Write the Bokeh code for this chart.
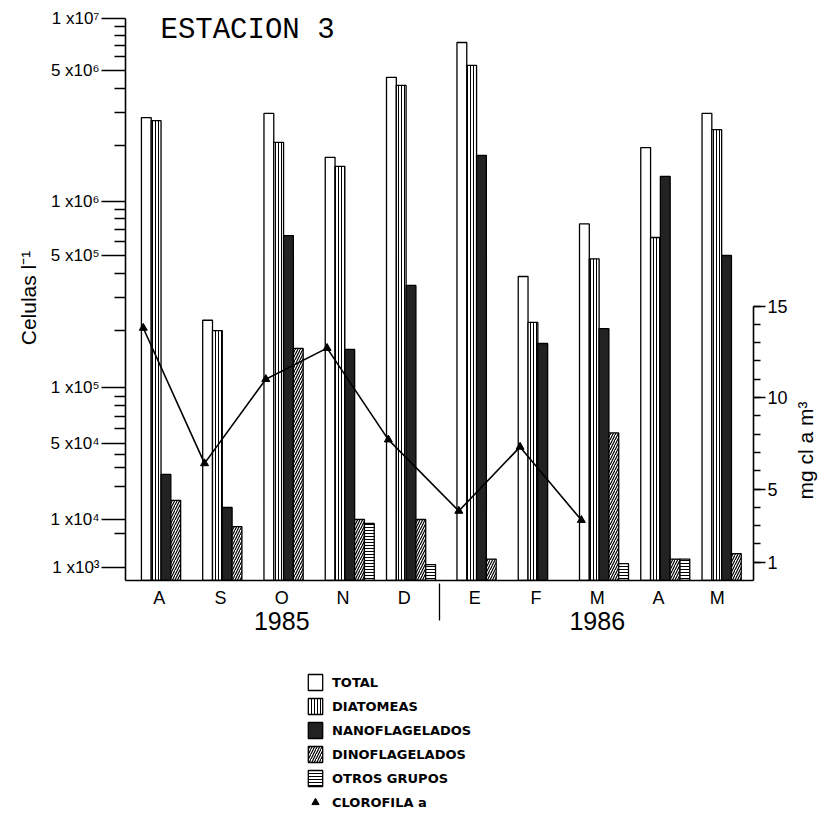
import math
import numpy as np
from bokeh.plotting import figure
from bokeh.layouts import column, row
from bokeh.models import (FactorRange, ColumnDataSource, CustomJSTransform, FixedTicker,
                          LinearAxis, Range1d, Legend, LegendItem, Label)
from bokeh.transform import dodge, transform
from bokeh.embed import file_html
from bokeh.resources import INLINE

# ---------------- data ----------------
years = ["1985"] * 5 + ["1986"] * 5
# the two "M" of 1986 (Marzo, Mayo) must be distinct factors: the second has a trailing space
months = ["A", "S", "O", "N", "D", "E", "F", "M", "A", "M "]
total = [2.8e6, 2.27e5, 2.95e6, 1.72e6, 4.6e6, 7.26e6, 3.87e5, 7.5e5, 1.94e6, 2.95e6]
diatomeas = [2.7e6, 2.0e5, 2.07e6, 1.54e6, 4.16e6, 5.35e6, 2.21e5, 4.8e5, 6.3e5, 2.42e6]
nanoflagelados = [2.6e4, 1.29e4, 6.46e5, 1.59e5, 3.47e5, 1.76e6, 1.71e5, 2.05e5, 1.36e6, 5.0e5]
dinoflagelados = [1.5e4, 7.1e3, 1.61e5, 1.0e4, 1.0e4, 1.5e3, None, 5.7e4, 1.5e3, 1.95e3]
otros_grupos = [None, None, None, 8.3e3, 1.15e3, None, None, 1.2e3, 1.5e3, None]
clorofila = [13.8, 6.4, 11.0, 12.7, 7.7, 3.8, 7.3, 3.3, None, None]

# left axis of the original is a hand-drawn, piecewise logarithmic scale
axis_values = [1e3, 1e4, 5e4, 1e5, 5e5, 1e6, 5e6, 1e7]
axis_pos = [13, 61, 137, 193, 325, 379, 510, 562]
axis_labels = ["1 x10³", "1 x10⁴", "5 x10⁴", "1 x10⁵", "5 x10⁵", "1 x10⁶", "5 x10⁶", "1 x10⁷"]
cl_ticks = [1, 5, 10, 15]
cl_minor = list(range(1, 16))

factors = list(zip(years, months))
lv = [float(np.log10(v)) for v in axis_values]

piecewise = CustomJSTransform(args=dict(lv=lv, pos=axis_pos), func="""
const l = Math.log10(x);
let k = 0;
while (k < lv.length - 2 && l > lv[k + 1]) k++;
const t = (l - lv[k]) / (lv[k + 1] - lv[k]);
return pos[k] + t * (pos[k + 1] - pos[k]);
""", v_func="""
const out = new Array(xs.length);
for (let i = 0; i < xs.length; i++) {
  const l = Math.log10(xs[i]);
  let k = 0;
  while (k < lv.length - 2 && l > lv[k + 1]) k++;
  const t = (l - lv[k]) / (lv[k + 1] - lv[k]);
  out[i] = pos[k] + t * (pos[k + 1] - pos[k]);
}
return out;
""")

FONT = "Liberation Sans"
TOP, FH, BOT = 15, 565, 72

p = figure(x_range=FactorRange(*factors, group_padding=0.15, factor_padding=0.0,
                               range_padding=0.05, range_padding_units="absolute"),
           y_range=Range1d(0, 565),
           frame_width=628, frame_height=FH, output_backend="svg", toolbar_location=None,
           min_border_left=125, min_border_right=32, min_border_top=TOP, min_border_bottom=BOT)
p.xgrid.grid_line_color = None
p.ygrid.grid_line_color = None
p.outline_line_color = None
p.background_fill_color = "white"
p.border_fill_color = "white"

# ---------------- bars ----------------
def src(vals):
    idx = [i for i, v in enumerate(vals) if v is not None]
    return ColumnDataSource(dict(x=[factors[i] for i in idx], v=[vals[i] for i in idx]))

W = 0.16
common = dict(width=W, bottom=0, line_color="black", line_width=1.3)
S_TOT = dict(fill_color="white")
S_DIA = dict(fill_color="white", hatch_pattern="vertical_line", hatch_scale=3,
             hatch_weight=1, hatch_color="black")
S_NAN = dict(fill_color="#222222")
S_DIN = dict(fill_color="white", hatch_pattern="right_diagonal_line", hatch_scale=5,
             hatch_weight=1.2, hatch_color="black")
S_OTR = dict(fill_color="white", hatch_pattern="horizontal_line", hatch_scale=3,
             hatch_weight=1, hatch_color="black")

for vals, off, sty in [(total, -0.21, S_TOT), (diatomeas, -0.05, S_DIA),
                       (nanoflagelados, 0.11, S_NAN), (dinoflagelados, 0.27, S_DIN),
                       (otros_grupos, 0.43, S_OTR)]:
    p.vbar(x=dodge("x", off, range=p.x_range), top=transform("v", piecewise),
           source=src(vals), **common, **sty)

# ---------------- chlorophyll ----------------
p.extra_y_ranges = {"cl": Range1d(0, 565 / 18.3)}
cidx = [i for i, v in enumerate(clorofila) if v is not None]
csrc = ColumnDataSource(dict(x=[factors[i] for i in cidx], c=[clorofila[i] for i in cidx]))
p.line(x=dodge("x", -0.26, range=p.x_range), y="c", source=csrc, y_range_name="cl",
       line_color="black", line_width=1.6)
p.scatter(x=dodge("x", -0.26, range=p.x_range), y="c", source=csrc, y_range_name="cl",
          marker="triangle", size=8, fill_color="black", line_color="black")

# ---------------- axes ----------------
minor = []
for dec in [1e4, 1e5, 1e6]:
    for m in range(2, 10):
        if m != 5:
            minor.append(float(np.interp(np.log10(m * dec), lv, axis_pos)))
minor.append(float(np.interp(np.log10(5e3), lv, axis_pos)))

ya = p.yaxis[0]
ya.ticker = FixedTicker(ticks=axis_pos, minor_ticks=minor)
ya.major_label_overrides = {pos: lab for pos, lab in zip(axis_pos, axis_labels)}
ya.bounds = (0, 562)
ya.major_tick_out = 24
ya.major_tick_in = 0
ya.minor_tick_out = 11
ya.minor_tick_in = 0
ya.axis_line_width = 1.6
ya.major_tick_line_width = 1.3
ya.minor_tick_line_width = 1.3
ya.major_label_text_font = FONT
ya.major_label_text_font_size = "17px"
ya.major_label_text_color = "black"
ya.major_label_standoff = 2
ya.axis_label = "Celulas l⁻¹"
ya.axis_label_text_font = FONT
ya.axis_label_text_font_size = "21px"
ya.axis_label_text_font_style = "normal"
ya.axis_label_text_color = "black"
ya.axis_label_standoff = 8

ra = LinearAxis(y_range_name="cl", ticker=FixedTicker(ticks=cl_ticks, minor_ticks=cl_minor),
                bounds=(0, 15))
ra.major_tick_out = 12
ra.major_tick_in = 0
ra.minor_tick_out = 7
ra.minor_tick_in = 0
ra.axis_line_width = 1.6
ra.major_tick_line_width = 1.3
ra.minor_tick_line_width = 1.3
ra.major_label_text_font = FONT
ra.major_label_text_font_size = "18px"
ra.major_label_text_color = "black"
ra.major_label_standoff = 2
p.add_layout(ra, "right")

xa = p.xaxis[0]
xa.axis_line_width = 1.6
xa.major_tick_line_color = None
xa.minor_tick_line_color = None
xa.major_label_text_font = FONT
xa.major_label_text_font_size = "18px"
xa.major_label_text_color = "black"
xa.major_label_standoff = 1
xa.group_text_font = FONT
xa.group_text_font_size = "25px"
xa.group_text_color = "black"
xa.group_text_font_style = "normal"
xa.group_label_orientation = "horizontal"
xa.separator_line_color = "black"
xa.separator_line_width = 1.3

# ---------------- title ----------------
p.add_layout(Label(x=35, y=567, x_units="screen", y_units="screen", text="ESTACION 3",
                   text_font="Liberation Mono", text_font_size="29px", text_baseline="top",
                   text_color="black"))

# ---------------- right-axis title (narrow strip right of the chart) ----------------
rf = figure(frame_width=30, frame_height=FH, output_backend="svg", toolbar_location=None,
            x_range=Range1d(0, 1), y_range=Range1d(0, 1),
            x_axis_location=None, y_axis_location=None,
            min_border_left=0, min_border_right=0, min_border_top=TOP, min_border_bottom=BOT)
rf.grid.grid_line_color = None
rf.outline_line_color = None
rf.add_layout(Label(x=15, y=130, x_units="screen", y_units="screen", text="mg cl a m³",
                    angle=math.pi / 2, text_align="center", text_baseline="middle",
                    text_font=FONT, text_font_size="21px", text_color="black"))

# ---------------- legend (separate strip below the chart) ----------------
lf = figure(width=785, height=160, output_backend="svg", toolbar_location=None,
            x_range=Range1d(0, 1), y_range=Range1d(0, 1),
            x_axis_location=None, y_axis_location=None, min_border=0)
lf.grid.grid_line_color = None
lf.outline_line_color = None
lw = dict(line_color="black", line_width=1.3)
nan = np.array([np.nan])
lg_items = []
for name, sty in [("TOTAL", S_TOT), ("DIATOMEAS", S_DIA), ("NANOFLAGELADOS", S_NAN),
                  ("DINOFLAGELADOS", S_DIN), ("OTROS GRUPOS", S_OTR)]:
    r = lf.vbar(x=nan, top=nan, width=0.1, **lw, **sty)
    lg_items.append(LegendItem(label=name, renderers=[r]))
r = lf.scatter(x=nan, y=nan, marker="triangle", size=12, fill_color="black", line_color="black")
lg_items.append(LegendItem(label="CLOROFILA a", renderers=[r]))

legend = Legend(items=lg_items, location=(181, 0), orientation="vertical")
legend.border_line_alpha = 0
legend.background_fill_alpha = 0
legend.label_text_font = "DejaVu Sans"
legend.label_text_font_style = "bold"
legend.label_text_font_size = "13px"
legend.label_text_color = "black"
legend.glyph_width = 18
legend.glyph_height = 20
legend.spacing = 4
legend.padding = 0
legend.margin = 0
legend.label_standoff = 8
lf.add_layout(legend, "center")

layout = row(column(p, lf, spacing=0), rf, spacing=0)
open("out.html", "w").write(file_html(layout, INLINE))
